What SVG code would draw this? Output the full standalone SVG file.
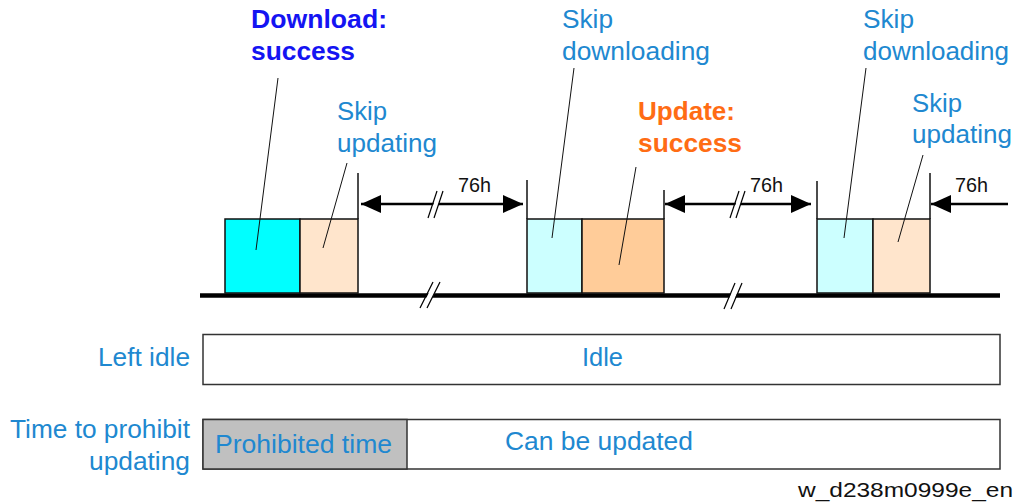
<svg xmlns="http://www.w3.org/2000/svg" width="1016" height="504" viewBox="0 0 1016 504">
<style>
text{font-family:"Liberation Sans",Arial,sans-serif;}
.lbl{font-size:25px;fill:#2088d0;}
.dl{font-size:25px;font-weight:bold;fill:#1414f2;}
.up{font-size:25px;font-weight:bold;fill:#ff6c14;}
.h{font-size:21px;fill:#111;}
.wm{font-size:21px;fill:#111;}
.box{stroke:#111;stroke-width:1.5;}
.lead{stroke:#111;stroke-width:1;fill:none;}
.tick{stroke:#111;stroke-width:1.5;fill:none;}
.arr{stroke:#000;stroke-width:2.6;fill:none;}
.sl{stroke:#000;stroke-width:1.2;fill:none;}
.bar{fill:#fff;stroke:#333;stroke-width:1.5;}
</style>
<defs>
<marker id="ah" markerUnits="userSpaceOnUse" markerWidth="20" markerHeight="18" refX="20" refY="9" orient="auto-start-reverse" viewBox="0 0 20 18">
<path d="M0,0 L20,9 L0,18 Z" fill="#000"/>
</marker>
</defs>
<rect width="1016" height="504" fill="#fff"/>

<g id="timeline">
<line x1="200" y1="295.5" x2="1000" y2="295.5" stroke="#000" stroke-width="4.5"/>
<polygon points="421,308 434,283 440,283 427,308" fill="#fff"/>
<line class="sl" x1="420" y1="308" x2="433" y2="282"/>
<line class="sl" x1="427" y1="308" x2="440" y2="282"/>
<polygon points="725,308 735,284 741,284 731,308" fill="#fff"/>
<line class="sl" x1="724" y1="309" x2="735" y2="283"/>
<line class="sl" x1="731" y1="309" x2="742" y2="283"/>
</g>

<g id="block1">
<rect class="box" x="225" y="219" width="75" height="74" fill="#00ffff"/>
<rect class="box" x="300" y="219" width="58" height="74" fill="#ffe5cc"/>
<line class="tick" x1="358" y1="173" x2="358" y2="219"/>
</g>

<g id="block2">
<rect class="box" x="527" y="219" width="55" height="74" fill="#ccffff"/>
<rect class="box" x="582" y="219" width="82" height="74" fill="#ffcc99"/>
<line class="tick" x1="527" y1="180" x2="527" y2="219"/>
<line class="tick" x1="664" y1="190" x2="664" y2="219"/>
</g>

<g id="block3">
<rect class="box" x="817" y="219" width="56" height="74" fill="#ccffff"/>
<rect class="box" x="873" y="219" width="57" height="74" fill="#ffe5cc"/>
<line class="tick" x1="817" y1="181" x2="817" y2="219"/>
<line class="tick" x1="930" y1="173" x2="930" y2="219"/>
</g>

<g id="connectors">
<line class="arr" x1="361" y1="204" x2="523" y2="204" marker-start="url(#ah)" marker-end="url(#ah)"/>
<polygon points="429,217 438,191 443,191 434,217" fill="#fff"/>
<line class="sl" x1="428" y1="218" x2="437" y2="191"/>
<line class="sl" x1="434" y1="218" x2="443" y2="191"/>
<line class="arr" x1="665" y1="204" x2="811" y2="204" marker-start="url(#ah)" marker-end="url(#ah)"/>
<polygon points="731,218 740,191 745,191 736,218" fill="#fff"/>
<line class="sl" x1="730" y1="218" x2="739" y2="191"/>
<line class="sl" x1="736" y1="218" x2="745" y2="191"/>
<line class="arr" x1="1008" y1="204" x2="931" y2="204" marker-end="url(#ah)"/>
<line class="lead" x1="278" y1="78" x2="256" y2="250"/>
<line class="lead" x1="347" y1="163" x2="323" y2="248"/>
<line class="lead" x1="574" y1="68" x2="552" y2="238"/>
<line class="lead" x1="636" y1="167" x2="619" y2="265"/>
<line class="lead" x1="866" y1="68" x2="844" y2="238"/>
<line class="lead" x1="923" y1="155" x2="898" y2="242"/>
</g>

<g id="labels-top">
<text class="dl" x="251" y="28" textLength="136" lengthAdjust="spacingAndGlyphs">Download:</text>
<text class="dl" x="251" y="60" textLength="104" lengthAdjust="spacingAndGlyphs">success</text>
<text class="lbl" x="337" y="120" textLength="50" lengthAdjust="spacingAndGlyphs">Skip</text>
<text class="lbl" x="337" y="152" textLength="100" lengthAdjust="spacingAndGlyphs">updating</text>
<text class="lbl" x="562" y="28" textLength="51" lengthAdjust="spacingAndGlyphs">Skip</text>
<text class="lbl" x="562" y="60" textLength="148" lengthAdjust="spacingAndGlyphs">downloading</text>
<text class="up" x="638" y="120" textLength="97" lengthAdjust="spacingAndGlyphs">Update:</text>
<text class="up" x="638" y="152" textLength="104" lengthAdjust="spacingAndGlyphs">success</text>
<text class="lbl" x="863" y="28" textLength="51" lengthAdjust="spacingAndGlyphs">Skip</text>
<text class="lbl" x="863" y="60" textLength="146" lengthAdjust="spacingAndGlyphs">downloading</text>
<text class="lbl" x="912" y="112" textLength="50" lengthAdjust="spacingAndGlyphs">Skip</text>
<text class="lbl" x="912" y="143" textLength="100" lengthAdjust="spacingAndGlyphs">updating</text>
<text class="h" x="458" y="192" textLength="33" lengthAdjust="spacingAndGlyphs">76h</text>
<text class="h" x="750" y="192" textLength="33" lengthAdjust="spacingAndGlyphs">76h</text>
<text class="h" x="955" y="192" textLength="33" lengthAdjust="spacingAndGlyphs">76h</text>
</g>

<g id="idle-row">
<rect class="bar" x="203" y="334.5" width="797" height="50"/>
<text class="lbl" x="98" y="366" textLength="92" lengthAdjust="spacingAndGlyphs">Left idle</text>
<text class="lbl" x="582" y="366" textLength="41" lengthAdjust="spacingAndGlyphs">Idle</text>
</g>

<g id="prohibit-row">
<rect class="bar" x="203" y="419.5" width="797" height="49.5"/>
<rect x="203" y="419.5" width="204" height="49.5" fill="#c0c0c0" stroke="#333" stroke-width="1.5"/>
<text class="lbl" x="10" y="438" textLength="180" lengthAdjust="spacingAndGlyphs">Time to prohibit</text>
<text class="lbl" x="89" y="470" textLength="101" lengthAdjust="spacingAndGlyphs">updating</text>
<text class="lbl" x="215" y="453" textLength="177" lengthAdjust="spacingAndGlyphs">Prohibited time</text>
<text class="lbl" x="505" y="450" textLength="188" lengthAdjust="spacingAndGlyphs">Can be updated</text>
</g>

<text class="wm" x="798" y="497" textLength="215" lengthAdjust="spacingAndGlyphs">w_d238m0999e_en</text>
</svg>
